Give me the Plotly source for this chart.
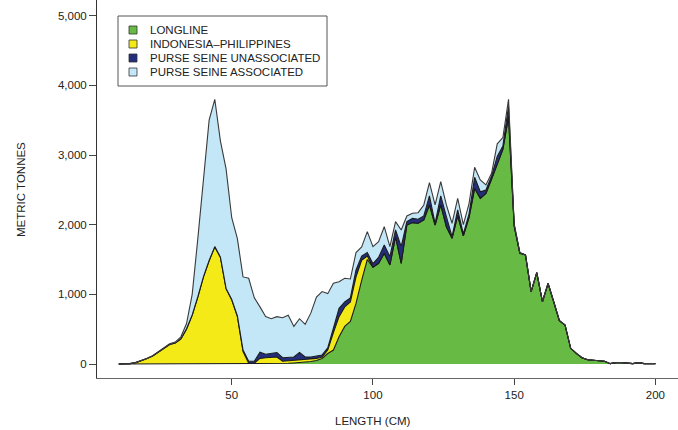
import plotly.graph_objects as go

# Length bins (cm)
length_cm = [10, 12, 14, 16, 18, 20, 22, 24, 26, 28, 30, 32, 34, 36, 38, 40, 42, 44, 46, 48,
             50, 52, 54, 56, 58, 60, 62, 64, 66, 68, 70, 72, 74, 76, 78, 80, 82, 84, 86, 88,
             90, 92, 94, 96, 98, 100, 102, 104, 106, 108, 110, 112, 114, 116, 118, 120, 122, 124, 126, 128,
             130, 132, 134, 136, 138, 140, 142, 144, 146, 148, 150, 152, 154, 156, 158, 160, 162, 164, 166, 168,
             170, 172, 174, 176, 178, 180, 182, 184, 186, 188, 190, 192, 194, 196, 198, 200]

longline = [0, 0, 0, 0, 0, 0, 0, 0, 0, 0, 0, 0, 0, 0, 0, 0, 0, 0, 0, 0,
            0, 0, 0, 0, 0, 0, 0, 0, 0, 5, 10, 15, 20, 25, 35, 50, 80, 150, 200, 390,
            540, 610, 870, 1200, 1500, 1390, 1445, 1589, 1421, 1828, 1445, 1995, 2030, 2020, 2070, 2283, 1995, 2283, 1971, 1804,
            2125, 1838, 2100, 2522, 2379, 2450, 2651, 2880, 3080, 3550, 1980, 1590, 1565, 1038, 1311, 894, 1158, 894, 622, 560,
            225, 153, 90, 60, 50, 45, 40, 5, 20, 20, 15, 5, 20, 5, 5, 5]

indonesia_philippines = [0, 0, 5, 20, 45, 80, 115, 170, 230, 280, 300, 360, 500, 700, 960, 1250, 1480, 1680, 1530, 1080,
                         920, 680, 180, 10, 10, 80, 90, 95, 100, 35, 35, 35, 35, 35, 30, 30, 20, 50, 250, 290,
                         280, 280, 380, 290, 50, 0, 0, 0, 0, 0, 0, 0, 0, 0, 0, 0, 0, 0, 0, 0,
                         0, 0, 0, 0, 0, 0, 0, 0, 0, 0, 0, 0, 0, 0, 0, 0, 0, 0, 0, 0,
                         0, 0, 0, 0, 0, 0, 0, 0, 0, 0, 0, 0, 0, 0, 0, 0]

ps_unassociated = [0, 0, 0, 0, 0, 0, 0, 0, 0, 0, 0, 2, 5, 5, 5, 5, 5, 5, 5, 5,
                   5, 10, 20, 30, 30, 90, 50, 60, 65, 50, 55, 50, 110, 40, 35, 30, 30, 30, 70, 120,
                   70, 60, 100, 60, 50, 50, 85, 119, 119, 96, 239, 50, 60, 57, 55, 129, 25, 129, 144, 24,
                   86, 28, 50, 158, 94, 48, 48, 100, 50, 150, 20, 5, 0, 0, 0, 0, 0, 0, 0, 0,
                   0, 0, 0, 0, 0, 0, 0, 0, 0, 0, 0, 0, 0, 0, 0, 0]

ps_associated = [0, 0, 0, 0, 0, 0, 3, 5, 5, 10, 15, 28, 75, 295, 835, 1395, 2015, 2115, 1665, 1715,
                 1175, 1110, 1050, 1190, 910, 650, 540, 495, 515, 575, 600, 440, 485, 470, 630, 850, 910, 780, 640, 380,
                 340, 270, 250, 130, 300, 244, 226, 263, 144, 119, 240, 80, 73, 95, 158, 191, 263, 205, 168, 192,
                 168, 134, 150, 144, 168, 72, 39, 180, 120, 100, 10, 5, 0, 0, 0, 0, 0, 0, 0, 0,
                 0, 0, 0, 0, 0, 0, 0, 0, 0, 0, 0, 0, 0, 0, 0, 0]

series_names = ["LONGLINE", "INDONESIA\u2013PHILIPPINES", "PURSE SEINE UNASSOCIATED", "PURSE SEINE ASSOCIATED"]
series_values = [longline, indonesia_philippines, ps_unassociated, ps_associated]
fill_colors = ["#67bb45", "#f3ea17", "#232f7c", "#c3e7f7"]
line_colors = ["#1a1a1a", "#1a1a1a", "#1a1a1a", "#3a3a3a"]

y_ticks = [0, 1000, 2000, 3000, 4000, 5000]
y_tick_text = ["0", "1,000", "2,000", "3,000", "4,000", "5,000"]
x_ticks = [50, 100, 150, 200]

FONT = "Liberation Sans, Arial, Helvetica, sans-serif"
TXT = "#222222"

fig = go.Figure()
for name, vals, fc, lc in zip(series_names, series_values, fill_colors, line_colors):
    fig.add_trace(go.Scatter(
        x=length_cm, y=vals, name=name, mode="lines",
        stackgroup="one", fillcolor=fc,
        line=dict(color=lc, width=1.1, shape="linear"),
        showlegend=False, hoverinfo="x+y+name",
    ))

# plot area geometry (pixels)
W, H = 678, 430
L, R, T, B = 97, 0, 0, 52
PW, PH = W - L - R, H - T - B


def px(xp):
    return (xp - L) / PW


def py(yp):
    return (H - B - yp) / PH


shapes = []
annotations = []
# legend box
shapes.append(dict(type="rect", xref="paper", yref="paper",
                   x0=px(118), x1=px(327), y0=py(86), y1=py(16),
                   line=dict(color="#555555", width=1), fillcolor="white", layer="above"))
row_y = [30, 44, 58, 72]
for name, fc, ry in zip(series_names, fill_colors, row_y):
    shapes.append(dict(type="rect", xref="paper", yref="paper",
                       x0=px(129), x1=px(137), y0=py(ry + 4), y1=py(ry - 4),
                       line=dict(color="#333333", width=0.8), fillcolor=fc, layer="above"))
    annotations.append(dict(text=name, xref="paper", yref="paper", x=px(148), y=py(ry),
                            xanchor="left", yanchor="middle", showarrow=False,
                            font=dict(family=FONT, size=11.5, color=TXT)))

annotations.append(dict(text="LENGTH (CM)", xref="x", yref="paper", x=100, y=py(421),
                        xanchor="center", yanchor="middle", showarrow=False,
                        font=dict(family=FONT, size=11.5, color=TXT)))
annotations.append(dict(text="METRIC TONNES", xref="paper", yref="paper", x=px(21), y=py(190),
                        xanchor="center", yanchor="middle", showarrow=False, textangle=-90,
                        font=dict(family=FONT, size=11.5, color=TXT)))

fig.update_layout(
    width=W, height=H,
    margin=dict(l=L, r=R, t=T, b=B, pad=0),
    paper_bgcolor="white", plot_bgcolor="white",
    showlegend=False,
    shapes=shapes, annotations=annotations,
    font=dict(family=FONT, size=11.5, color=TXT),
    xaxis=dict(range=[2.3, 208], tickvals=x_ticks, ticks="outside", ticklen=6, tickwidth=1,
               tickcolor="#444444", showline=True, linecolor="#666666", linewidth=1,
               showgrid=False, zeroline=False, tickfont=dict(family=FONT, size=11.5, color=TXT)),
    yaxis=dict(range=[-201, 5225], tickvals=y_ticks, ticktext=y_tick_text, ticks="outside",
               ticklen=7, tickwidth=1, tickcolor="#444444", showline=True, linecolor="#333333",
               linewidth=1, showgrid=False, zeroline=False,
               tickfont=dict(family=FONT, size=11.5, color=TXT)),
)

fig.write_html("out.html")
